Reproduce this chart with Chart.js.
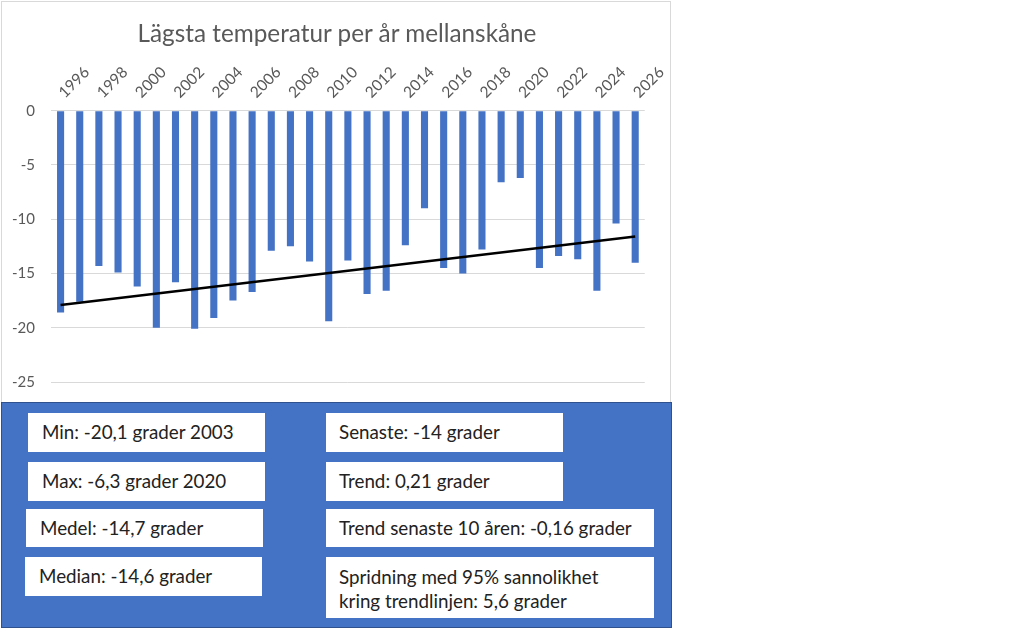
<!DOCTYPE html>
<html>
<head>
<meta charset="utf-8">
<script src="https://cdn.jsdelivr.net/npm/chart.js@4.4.0/dist/chart.umd.min.js"></script>
<style>
  body { margin: 0; background: #fff; font-family: Lato, "Noto Sans", sans-serif; }
  #wrap { position: absolute; left: 1px; top: 1px; width: 670px; height: 407px; border: 1px solid #d9d9d9; box-sizing: border-box; }
  #title { position: absolute; left: 1px; top: 18px; width: 672px; text-align: center; color: #595959; font-size: 24.3px; line-height: 29px; }
  #panel { position: absolute; left: 1px; top: 402px; width: 671px; height: 226px; background: #4472c4; border: 1px solid #2f528f; box-sizing: border-box; }
  .box { position: absolute; background: #fff; color: #222; font-size: 18.8px; line-height: 22px; box-sizing: border-box; padding-top: 8px; }
</style>
</head>
<body>
<div id="wrap"><canvas id="chart"></canvas></div>
<div id="title">Lägsta temperatur per år mellanskåne</div>
<div id="panel"></div>
<div class="box" style="left:28px;top:413px;width:237px;height:39px;padding-left:14px">Min: -20,1 grader 2003</div>
<div class="box" style="left:28px;top:462px;width:237px;height:39px;padding-left:14px">Max: -6,3 grader 2020</div>
<div class="box" style="left:26px;top:509px;width:237px;height:38px;padding-left:14px">Medel: -14,7 grader</div>
<div class="box" style="left:25px;top:557px;width:237px;height:39px;padding-left:14px">Median: -14,6 grader</div>
<div class="box" style="left:326px;top:413px;width:237px;height:39px;padding-left:13px">Senaste: -14 grader</div>
<div class="box" style="left:326px;top:462px;width:237px;height:39px;padding-left:13px">Trend: 0,21 grader</div>
<div class="box" style="left:326px;top:509px;width:328px;height:38px;padding-left:13px">Trend senaste 10 åren: -0,16 grader</div>
<div class="box" style="left:326px;top:557px;width:328px;height:61px;padding-left:13px;padding-top:8px;line-height:24px">Spridning med 95% sannolikhet<br>kring trendlinjen: 5,6 grader</div>
<script>
// years 1996..2026
const years = ['1996', '1997', '1998', '1999', '2000', '2001', '2002', '2003', '2004', '2005',
  '2006', '2007', '2008', '2009', '2010', '2011', '2012', '2013', '2014', '2015',
  '2016', '2017', '2018', '2019', '2020', '2021', '2022', '2023', '2024', '2025', '2026'];

// lowest temperature per year
const minTemps = [-18.6, -17.6, -14.3, -14.9, -16.2, -20.0, -15.8, -20.1, -19.1, -17.5,
  -16.7, -12.9, -12.5, -13.9, -19.4, -13.8, -16.9, -16.6, -12.4, -9.0,
  -14.5, -15.0, -12.8, -6.6, -6.2, -14.5, -13.4, -13.7, -16.6, -10.4, -14.0];

// trend line, read at both ends
const trend = [-17.9, null, null, null, null, null, null, null, null, null,
  null, null, null, null, null, null, null, null, null, null,
  null, null, null, null, null, null, null, null, null, null, -11.6];

const yTicks = [0, -5, -10, -15, -20, -25];

const ctx = document.getElementById('chart').getContext('2d');
new Chart(ctx, {
  type: 'bar',
  data: {
    labels: years,
    datasets: [
      {
        type: 'line',
        data: trend,
        borderColor: '#000',
        borderWidth: 2.5,
        pointRadius: 0,
        spanGaps: true,
        order: 0
      },
      {
        data: minTemps,
        backgroundColor: '#4472c4',
        barPercentage: 0.37,
        categoryPercentage: 1,
        order: 1
      }
    ]
  },
  options: {
    responsive: true,
    maintainAspectRatio: false,
    animation: false,
    // top padding leaves room for the html title
    layout: { padding: { left: 0, right: 23, top: 46.7, bottom: 10 } },
    plugins: {
      legend: { display: false },
      tooltip: { enabled: false }
    },
    scales: {
      x: {
        position: 'top',
        offset: true,
        grid: { display: false, drawTicks: false },
        border: { display: false },
        ticks: {
          autoSkip: false,
          minRotation: 45,
          maxRotation: 45,
          padding: 9,
          labelOffset: 14,
          color: '#595959',
          font: { family: 'Lato', size: 15.5 },
          callback: (v, i) => (i % 2 === 0 ? years[i] : '')
        },
        afterFit: (scale) => { scale.height = 62; }
      },
      y: {
        min: -25,
        max: 0,
        grid: { color: '#d9d9d9', lineWidth: 1, drawTicks: false },
        border: { display: false },
        afterBuildTicks: (scale) => { scale.ticks = yTicks.map(v => ({ value: v })); },
        ticks: {
          padding: 16,
          color: '#595959',
          font: { family: 'Lato', size: 15 }
        },
        afterFit: (scale) => { scale.width = 49; }
      }
    }
  }
});
</script>
</body>
</html>
